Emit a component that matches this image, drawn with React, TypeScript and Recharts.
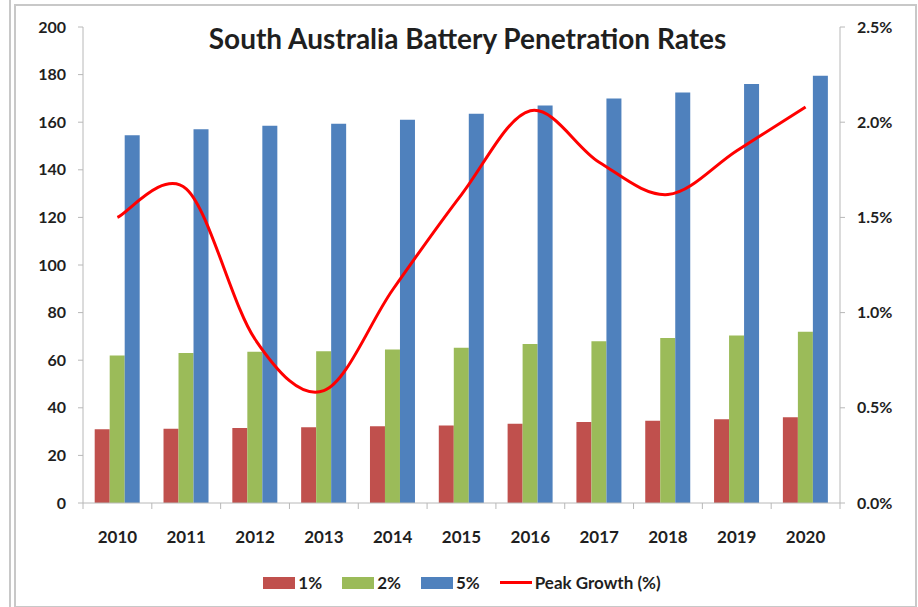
import React from "react";
import { Bar, ComposedChart, Legend, Line, XAxis, YAxis } from "recharts";

const years = ["2010", "2011", "2012", "2013", "2014", "2015", "2016", "2017", "2018", "2019", "2020"];
const pen1 = [31, 31.2, 31.5, 31.8, 32.2, 32.6, 33.3, 34, 34.6, 35.2, 36];
const pen2 = [62, 63, 63.5, 63.8, 64.5, 65.2, 66.8, 68, 69.3, 70.4, 72];
const pen5 = [154.5, 157, 158.5, 159.3, 161, 163.5, 167, 170, 172.5, 176, 179.5];
const peakGrowth = [1.5, 1.65, 0.86, 0.59, 1.12, 1.62, 2.06, 1.79, 1.62, 1.85, 2.08];

const leftTicks = [0, 20, 40, 60, 80, 100, 120, 140, 160, 180, 200];
const rightTicks = [0, 0.5, 1, 1.5, 2, 2.5];

const data = years.map((year, i) => ({
  year,
  p1: pen1[i],
  p2: pen2[i],
  p5: pen5[i],
  growth: peakGrowth[i],
}));

const FONT = "Lato, 'Open Sans', sans-serif";
const TEXT = "#1f1f1f";
const AXIS = "#b8b8b8";

// Excel style smoothed line (Catmull-Rom through the points)
const smoothCurve = (context: any) => {
  let pts: number[][] = [];
  return {
    areaStart() {},
    areaEnd() {},
    lineStart() {
      pts = [];
    },
    point(x: number, y: number) {
      pts.push([+x, +y]);
    },
    lineEnd() {
      if (!pts.length) return;
      context.moveTo(pts[0][0], pts[0][1]);
      for (let i = 0; i < pts.length - 1; i++) {
        const p0 = pts[i - 1] || pts[i];
        const p1 = pts[i];
        const p2 = pts[i + 1];
        const p3 = pts[i + 2] || p2;
        context.bezierCurveTo(
          p1[0] + (p2[0] - p0[0]) / 6,
          p1[1] + (p2[1] - p0[1]) / 6,
          p2[0] - (p3[0] - p1[0]) / 6,
          p2[1] - (p3[1] - p1[1]) / 6,
          p2[0],
          p2[1]
        );
      }
    },
  };
};

const YearTick = (props: any) => {
  const { x, y, payload, index } = props;
  const off = payload.offset || 0;
  return (
    <g>
      <line x1={x - off} y1={y} x2={x - off} y2={y + 6} stroke={AXIS} />
      {index === years.length - 1 && (
        <line x1={x + off} y1={y} x2={x + off} y2={y + 6} stroke={AXIS} />
      )}
      <text
        x={x}
        y={y + 33}
        textAnchor="middle"
        dominantBaseline="central"
        fill={TEXT}
        fontSize={17}
        fontWeight={700}
        fontFamily={FONT}
      >
        {payload.value}
      </text>
    </g>
  );
};

const legendItems = [
  { label: "1%", color: "#C0504D", kind: "bar" },
  { label: "2%", color: "#9BBB59", kind: "bar" },
  { label: "5%", color: "#4F81BD", kind: "bar" },
  { label: "Peak Growth (%)", color: "#FF0000", kind: "line" },
];

const LegendContent = () => (
  <div
    style={{
      display: "flex",
      justifyContent: "center",
      alignItems: "center",
      gap: 20,
      fontFamily: FONT,
      fontWeight: 700,
      fontSize: 17,
      color: TEXT,
      paddingLeft: 6,
      paddingTop: 5,
    }}
  >
    {legendItems.map((item) => (
      <div key={item.label} style={{ display: "flex", alignItems: "center", gap: 3 }}>
        <span
          style={{
            display: "inline-block",
            width: 32,
            height: item.kind === "bar" ? 12 : 3,
            background: item.color,
          }}
        />
        <span>{item.label}</span>
      </div>
    ))}
  </div>
);

export default function App() {
  return (
    <div style={{ position: "absolute", left: 0, top: 0, width: 918, height: 607, background: "#fff" }}>
      <div style={{ position: "absolute", left: 9, top: 0, width: 2, height: 607, background: "#c8c8c8" }} />
      <div
        style={{
          position: "absolute",
          left: 14,
          top: 4,
          width: 899,
          height: 600,
          border: "2px solid #c8c8c8",
        }}
      />
      <div
        style={{
          position: "absolute",
          top: 21,
          left: 0,
          width: 935,
          textAlign: "center",
          fontFamily: FONT,
          fontWeight: 700,
          fontSize: 28,
          color: TEXT,
        }}
      >
        South Australia Battery Penetration Rates
      </div>
      <div style={{ position: "absolute", left: 0, top: 0 }}>
        <ComposedChart
          width={918}
          height={607}
          data={data}
          margin={{ top: 27, right: 0, bottom: 0, left: 0 }}
          barCategoryGap="17%"
          barGap={0}
        >
          <XAxis
            dataKey="year"
            height={64}
            tickSize={0}
            tickMargin={0}
            tickLine={false}
            stroke={AXIS}
            tick={<YearTick />}
            interval={0}
          />
          <YAxis
            yAxisId="left"
            width={83}
            domain={[0, 200]}
            ticks={leftTicks}
            interval={0}
            tickSize={5}
            tickMargin={12}
            stroke={AXIS}
            tick={{ fill: TEXT, fontSize: 16, fontWeight: 700, fontFamily: FONT }}
          />
          <YAxis
            yAxisId="right"
            orientation="right"
            width={78}
            domain={[0, 2.5]}
            ticks={rightTicks}
            interval={0}
            tickSize={5}
            tickMargin={12}
            stroke={AXIS}
            tickFormatter={(v: number) => v.toFixed(1) + "%"}
            tick={{ fill: TEXT, fontSize: 16, fontWeight: 700, fontFamily: FONT }}
          />
          <Legend verticalAlign="bottom" height={40} content={<LegendContent />} />
          <Bar yAxisId="left" dataKey="p1" name="1%" fill="#C0504D" isAnimationActive={false} />
          <Bar yAxisId="left" dataKey="p2" name="2%" fill="#9BBB59" isAnimationActive={false} />
          <Bar yAxisId="left" dataKey="p5" name="5%" fill="#4F81BD" isAnimationActive={false} />
          <Line
            yAxisId="right"
            dataKey="growth"
            name="Peak Growth (%)"
            type={smoothCurve as any}
            stroke="#FF0000"
            strokeWidth={3}
            dot={false}
            isAnimationActive={false}
          />
        </ComposedChart>
      </div>
    </div>
  );
}
